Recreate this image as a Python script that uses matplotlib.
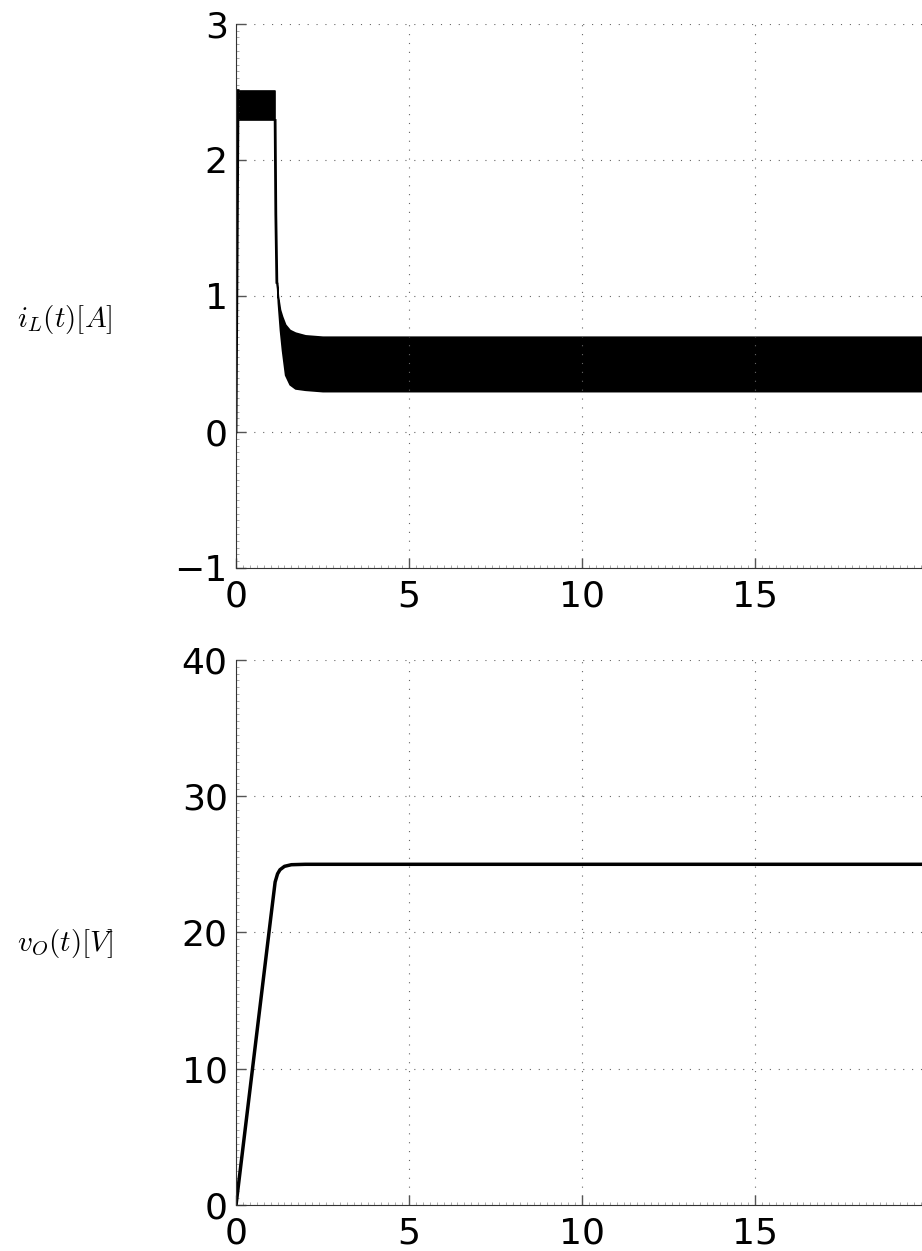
import numpy as np
import matplotlib
matplotlib.use('Agg')
import matplotlib.pyplot as plt
from matplotlib.ticker import MultipleLocator

plt.rcParams['mathtext.fontset'] = 'cm'
plt.rcParams['font.family'] = 'DejaVu Sans'

# inductor current (ms, A)
rise_t = [0.0, 0.06]
rise_i = [0.0, 2.51]
band1_t = [0.06, 1.14]
band1_hi = [2.51, 2.51]
band1_lo = [2.29, 2.29]
fall_t = [1.13, 1.15, 1.18]
fall_i = [2.29, 1.60, 1.10]
band2_t = [1.18, 1.21, 1.27, 1.33, 1.42, 1.55, 1.71, 2.0, 2.5, 20.0]
band2_hi = [1.10, 1.00, 0.90, 0.85, 0.79, 0.75, 0.73, 0.71, 0.70, 0.70]
band2_lo = [1.10, 0.95, 0.75, 0.60, 0.42, 0.35, 0.32, 0.31, 0.30, 0.30]

# output voltage (ms, V)
vo_t = [0.0, 0.5, 1.0, 1.13, 1.2, 1.27, 1.4, 1.6, 2.0, 20.0]
vo_v = [0.0, 10.5, 21.0, 23.7, 24.3, 24.6, 24.85, 24.97, 25.0, 25.0]

xticks = [0, 5, 10, 15]
il_ticks = [-1, 0, 1, 2, 3]
vo_ticks = [0, 10, 20, 30, 40]

fig = plt.figure(figsize=(9.22, 12.51), dpi=100)
ax1 = fig.add_axes([0.256, 0.546, 0.7505, 0.4349])
ax2 = fig.add_axes([0.256, 0.0368, 0.7505, 0.4357])

ax1.plot(rise_t, rise_i, color='k', lw=2)
ax1.fill_between(band1_t, band1_lo, band1_hi, color='k', lw=1.2)
ax1.plot(fall_t, fall_i, color='k', lw=2)
ax1.fill_between(band2_t, band2_lo, band2_hi, color='k', lw=1.2)
ax1.set_ylim(-1, 3)
ax1.set_yticks(il_ticks)
ax1.yaxis.set_minor_locator(MultipleLocator(0.05))

ax2.plot(vo_t, vo_v, color='k', lw=2.5)
ax2.set_ylim(0, 40)
ax2.set_yticks(vo_ticks)
ax2.yaxis.set_minor_locator(MultipleLocator(0.5))

for ax in (ax1, ax2):
    ax.set_xlim(0, 20)
    ax.set_xticks(xticks)
    ax.xaxis.set_minor_locator(MultipleLocator(0.2))
    ax.grid(True, which='major', linestyle=(0, (1, 7)), color='#666666', lw=0.8)
    ax.spines['top'].set_visible(False)
    ax.spines['right'].set_visible(False)
    ax.spines['left'].set_color('#333333')
    ax.spines['bottom'].set_color('#333333')
    ax.tick_params(which='major', direction='in', length=7, width=1,
                   color='#555555', labelsize=26, pad=6)
    ax.tick_params(axis='x', which='major', pad=8)
    ax.tick_params(which='minor', direction='in', length=2, width=0.5,
                   color='#888888')

fig.text(17 / 922, 1 - 320 / 1251, r'$i_L(t)[A]$', fontsize=21,
         ha='left', va='center')
fig.text(17 / 922, 1 - 944 / 1251, r'$v_O(t)[V]$', fontsize=21,
         ha='left', va='center')

fig.savefig('out.png', dpi=100)
